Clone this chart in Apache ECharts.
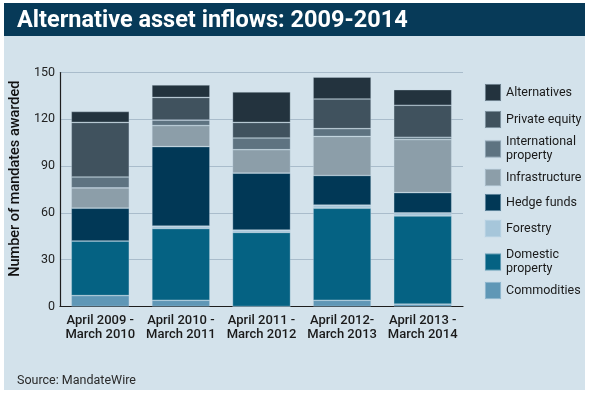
<!DOCTYPE html>
<html>
<head>
<meta charset="utf-8">
<script src="https://cdn.jsdelivr.net/npm/echarts@6/dist/echarts.min.js"></script>
<style>
html,body{margin:0;padding:0;background:#fff;}
#c{width:590px;height:395px;}
</style>
</head>
<body>
<div id="c"></div>
<script>
var categories = ['April 2009 -\nMarch 2010', 'April 2010 -\nMarch 2011', 'April 2011 -\nMarch 2012', 'April 2012-\nMarch 2013', 'April 2013 -\nMarch 2014'];
var commodities = [7, 4, 0, 4, 1.5];
var domesticProperty = [35, 46, 47.5, 59, 56.5];
var forestry = [0, 1.5, 1.5, 2, 2];
var hedgeFunds = [21, 51, 36.5, 19, 13];
var infrastructure = [13, 13.5, 15, 25, 34];
var internationalProperty = [7, 3.5, 7.5, 5, 1.5];
var privateEquity = [35, 14.5, 10, 19, 20.5];
var alternatives = [7, 8, 19.5, 14, 10];
var yTicks = [0, 30, 60, 90, 120, 150];

var seriesDefs = [
  {name: 'Commodities', data: commodities, color: '#5f97b6'},
  {name: 'Domestic property', data: domesticProperty, color: '#056283'},
  {name: 'Forestry', data: forestry, color: '#a6c6da'},
  {name: 'Hedge funds', data: hedgeFunds, color: '#013856'},
  {name: 'Infrastructure', data: infrastructure, color: '#8c9ea9'},
  {name: 'International property', data: internationalProperty, color: '#5e7381'},
  {name: 'Private equity', data: privateEquity, color: '#40525e'},
  {name: 'Alternatives', data: alternatives, color: '#23333e'}
];

var FONT = 'Roboto, "Liberation Sans", sans-serif';
var legendTops = {
  'Alternatives': 83, 'Private equity': 110, 'International property': 135,
  'Infrastructure': 168, 'Hedge funds': 193, 'Forestry': 219,
  'Domestic property': 248, 'Commodities': 281
};

var legends = seriesDefs.map(function (s) {
  return {
    data: [s.name],
    left: 484,
    top: legendTops[s.name],
    padding: 0,
    orient: 'vertical',
    icon: 'rect',
    itemWidth: 16,
    itemHeight: 17,
    itemGap: 0,
    selectedMode: false,
    formatter: function (n) {
      if (n === 'International property') return 'International\nproperty';
      if (n === 'Domestic property') return 'Domestic\nproperty';
      return n;
    },
    textStyle: {fontFamily: FONT, fontSize: 12.5, color: '#1a1a1a', lineHeight: 14}
  };
});

var chart = echarts.init(document.getElementById('c'), null, {renderer: 'canvas'});
chart.setOption({
  backgroundColor: '#ffffff',
  animation: false,
  graphic: [
    {type: 'rect', z: -10, shape: {x: 4, y: 3, width: 581, height: 387}, style: {fill: '#d3e2eb'}},
    {type: 'rect', z: -9, shape: {x: 4, y: 3, width: 581, height: 33}, style: {fill: '#073a58'}}
  ],
  title: [
    {text: 'Alternative asset inflows: 2009-2014', left: 12, top: 4,
     textStyle: {fontFamily: FONT, fontSize: 23.5, fontWeight: 'bold', color: '#ffffff'}},
    {text: 'Source: MandateWire', left: 12, top: 369,
     textStyle: {fontFamily: FONT, fontSize: 12.5, fontWeight: 'normal', color: '#2a2a2a'}}
  ],
  legend: legends,
  grid: {left: 59, right: 127, top: 72.5, bottom: 88.5, containLabel: false},
  xAxis: {
    type: 'category',
    data: categories,
    axisLine: {lineStyle: {color: '#1e1e1e', width: 1.2}},
    axisTick: {show: false},
    axisLabel: {interval: 0, fontFamily: FONT, fontSize: 13, fontWeight: 500, color: '#1a1a1a', lineHeight: 14, margin: 7}
  },
  yAxis: {
    type: 'value',
    min: 0, max: 150, interval: 30,
    name: '      Number of mandates awarded',
    nameLocation: 'middle',
    nameGap: 34,
    nameTextStyle: {fontFamily: FONT, fontSize: 14.5, fontWeight: 500, color: '#111'},
    axisLine: {show: true, lineStyle: {color: '#1e1e1e', width: 1.2}},
    axisTick: {show: false},
    splitLine: {lineStyle: {color: '#a9bccb', width: 1}},
    axisLabel: {fontFamily: FONT, fontSize: 12.5, color: '#222', margin: 5,
      formatter: function (v) { return yTicks.indexOf(v) >= 0 ? String(v) : ''; }}
  },
  series: seriesDefs.map(function (s) {
    return {
      name: s.name,
      type: 'bar',
      stack: 'total',
      data: s.data,
      barWidth: 58,
      itemStyle: {color: s.color, borderColor: 'rgba(200,220,232,0.45)', borderWidth: 0.7}
    };
  })
});
</script>
</body>
</html>
